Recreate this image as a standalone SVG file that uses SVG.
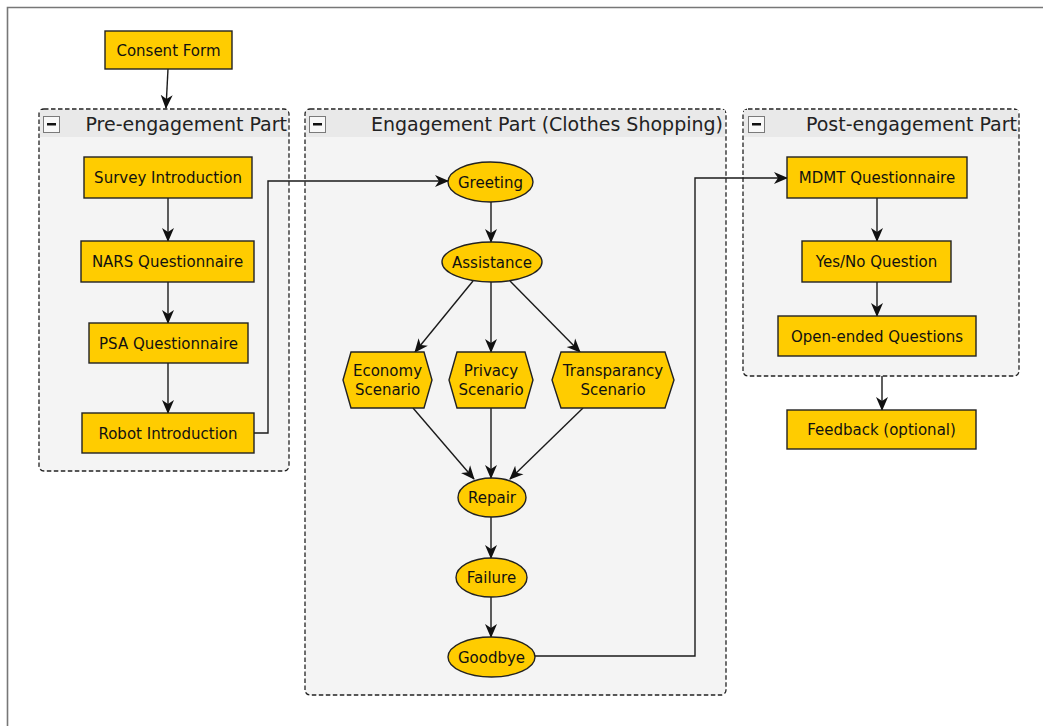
<svg xmlns="http://www.w3.org/2000/svg" width="1043" height="726" viewBox="0 0 1043 726">
  <style>
    .frame { fill: none; stroke: #777; stroke-width: 1.6; }
    .group { fill: #f4f4f4; stroke: #222; stroke-width: 1.3; stroke-dasharray: 4.5 2.5; }
    .head { fill: #e9e9e9; }
    .btn { fill: #f8f8f8; stroke: #7a7a7a; stroke-width: 1; }
    .minus { fill: #111; }
    .gtitle { font-family: "DejaVu Sans", sans-serif; font-size: 19px; fill: #222; text-anchor: end; }
    .node { fill: #ffcc00; stroke: #222; stroke-width: 1.4; }
    .label { font-family: "DejaVu Sans", sans-serif; font-size: 15px; fill: #111; text-anchor: middle; }
    .edge { fill: none; stroke: #1a1a1a; stroke-width: 1.4; }
  </style>
  <defs>
    <marker id="arrow" viewBox="0 0 14 14" refX="13" refY="7" markerWidth="14" markerHeight="14" markerUnits="userSpaceOnUse" orient="auto">
      <path d="M0,1 L14,7 L0,13 L4,7 z" fill="#111"/>
    </marker>
  </defs>

  <rect width="1043" height="726" fill="#fff"/>
  <!-- outer frame (top and left edges visible) -->
  <path class="frame" d="M7.5,726 V7.5 H1043"/>

  <!-- group containers -->
  <g id="pre-engagement">
    <rect class="group" x="39" y="109" width="250" height="362" rx="5"/>
    <rect class="head" x="40" y="110" width="248" height="27"/>
    <rect class="btn" x="43.5" y="116.5" width="16" height="16"/>
    <rect class="minus" x="47" y="123" width="9" height="2.5"/>
    <text class="gtitle" x="287" y="131">Pre-engagement Part</text>
  </g>
  <g id="engagement">
    <rect class="group" x="305" y="109" width="421" height="586" rx="5"/>
    <rect class="head" x="306" y="110" width="419" height="27"/>
    <rect class="btn" x="309.5" y="116.5" width="16" height="16"/>
    <rect class="minus" x="313" y="123" width="9" height="2.5"/>
    <text class="gtitle" x="723" y="131">Engagement Part (Clothes Shopping)</text>
  </g>
  <g id="post-engagement">
    <rect class="group" x="743" y="109" width="276" height="267" rx="5"/>
    <rect class="head" x="744" y="110" width="274" height="27"/>
    <rect class="btn" x="748.5" y="116.5" width="16" height="16"/>
    <rect class="minus" x="752" y="123" width="9" height="2.5"/>
    <text class="gtitle" x="1017" y="131">Post-engagement Part</text>
  </g>

  <!-- connectors -->
  <g id="connectors">
    <path class="edge" marker-end="url(#arrow)" d="M168,69 L166,108"/>
    <path class="edge" marker-end="url(#arrow)" d="M168,198 V241"/>
    <path class="edge" marker-end="url(#arrow)" d="M168,282 V323"/>
    <path class="edge" marker-end="url(#arrow)" d="M168,363 V413"/>
    <path class="edge" marker-end="url(#arrow)" d="M254,433 H268 V181 H448"/>
    <path class="edge" marker-end="url(#arrow)" d="M491,202 V242"/>
    <path class="edge" marker-end="url(#arrow)" d="M473,281 L415,352"/>
    <path class="edge" marker-end="url(#arrow)" d="M491,282 V352"/>
    <path class="edge" marker-end="url(#arrow)" d="M510,281 L580,352"/>
    <path class="edge" marker-end="url(#arrow)" d="M413,408 L474,479"/>
    <path class="edge" marker-end="url(#arrow)" d="M491,408 V478"/>
    <path class="edge" marker-end="url(#arrow)" d="M583,408 L510,479"/>
    <path class="edge" marker-end="url(#arrow)" d="M491,517 V558"/>
    <path class="edge" marker-end="url(#arrow)" d="M491,597 V637"/>
    <path class="edge" marker-end="url(#arrow)" d="M535,656 H695 V178 H787"/>
    <path class="edge" marker-end="url(#arrow)" d="M877,198 V241"/>
    <path class="edge" marker-end="url(#arrow)" d="M877,282 V316"/>
    <path class="edge" marker-end="url(#arrow)" d="M882,376 V410"/>
  </g>

  <!-- nodes -->
  <g id="consent-form">
    <rect class="node" x="105" y="31" width="127" height="38"/>
    <text class="label" x="168.5" y="55.5">Consent Form</text>
  </g>
  <g id="survey-introduction">
    <rect class="node" x="84" y="157" width="168" height="41"/>
    <text class="label" x="168" y="183">Survey Introduction</text>
  </g>
  <g id="nars-questionnaire">
    <rect class="node" x="81" y="241" width="173" height="41"/>
    <text class="label" x="167.5" y="267">NARS Questionnaire</text>
  </g>
  <g id="psa-questionnaire">
    <rect class="node" x="89" y="323" width="159" height="40"/>
    <text class="label" x="168.5" y="348.5">PSA Questionnaire</text>
  </g>
  <g id="robot-introduction">
    <rect class="node" x="82" y="413" width="172" height="40"/>
    <text class="label" x="168" y="438.5">Robot Introduction</text>
  </g>

  <g id="greeting">
    <ellipse class="node" cx="490.5" cy="182" rx="42.5" ry="20"/>
    <text class="label" x="490.5" y="187.5">Greeting</text>
  </g>
  <g id="assistance">
    <ellipse class="node" cx="492" cy="262" rx="50" ry="20"/>
    <text class="label" x="492" y="267.5">Assistance</text>
  </g>
  <g id="economy-scenario">
    <polygon class="node" points="343,380 351,352 424,352 432,380 424,408 351,408"/>
    <text class="label" x="387.5" y="376">Economy</text>
    <text class="label" x="387.5" y="395">Scenario</text>
  </g>
  <g id="privacy-scenario">
    <polygon class="node" points="449,380 457,352 525,352 533,380 525,408 457,408"/>
    <text class="label" x="491" y="376">Privacy</text>
    <text class="label" x="491" y="395">Scenario</text>
  </g>
  <g id="transparancy-scenario">
    <polygon class="node" points="552,380 561,352 665,352 674,380 665,408 561,408"/>
    <text class="label" x="613" y="376">Transparancy</text>
    <text class="label" x="613" y="395">Scenario</text>
  </g>
  <g id="repair">
    <ellipse class="node" cx="492" cy="497.5" rx="34" ry="19.5"/>
    <text class="label" x="492" y="503">Repair</text>
  </g>
  <g id="failure">
    <ellipse class="node" cx="491.5" cy="577.5" rx="35.5" ry="19.5"/>
    <text class="label" x="491.5" y="583">Failure</text>
  </g>
  <g id="goodbye">
    <ellipse class="node" cx="491.5" cy="657" rx="43.5" ry="20"/>
    <text class="label" x="491.5" y="662.5">Goodbye</text>
  </g>

  <g id="mdmt-questionnaire">
    <rect class="node" x="787" y="157" width="180" height="41"/>
    <text class="label" x="877" y="183">MDMT Questionnaire</text>
  </g>
  <g id="yes-no-question">
    <rect class="node" x="802" y="241" width="149" height="41"/>
    <text class="label" x="876.5" y="267">Yes/No Question</text>
  </g>
  <g id="open-ended-questions">
    <rect class="node" x="778" y="316" width="198" height="40"/>
    <text class="label" x="877" y="341.5">Open-ended Questions</text>
  </g>
  <g id="feedback">
    <rect class="node" x="787" y="410" width="189" height="39"/>
    <text class="label" x="881.5" y="434.5">Feedback (optional)</text>
  </g>
</svg>
